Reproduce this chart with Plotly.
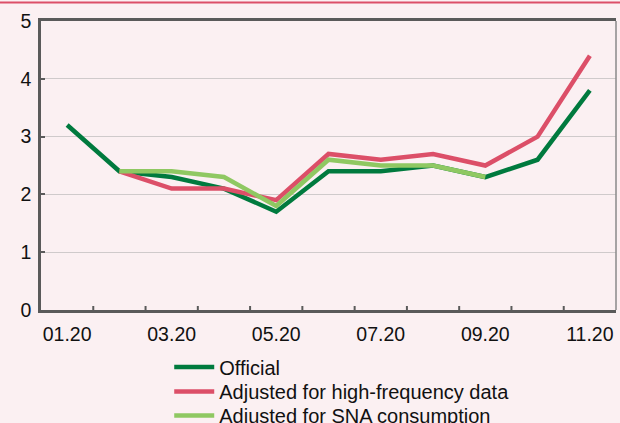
import plotly.graph_objects as go

months = ["01.20", "02.20", "03.20", "04.20", "05.20", "06.20",
          "07.20", "08.20", "09.20", "10.20", "11.20"]
tick_labels = ["01.20", "03.20", "05.20", "07.20", "09.20", "11.20"]

official = [3.2, 2.4, 2.3, 2.1, 1.7, 2.4, 2.4, 2.5, 2.3, 2.6, 3.8]
high_freq = [None, 2.4, 2.1, 2.1, 1.9, 2.7, 2.6, 2.7, 2.5, 3.0, 4.4]
sna = [None, 2.4, 2.4, 2.3, 1.8, 2.6, 2.5, 2.5, 2.3, None, None]

series = [
    ("Official", official, "#007A3E"),
    ("Adjusted for high-frequency data", high_freq, "#DC4F68"),
    ("Adjusted for SNA consumption", sna, "#8FC862"),
]

# each legend row gets its own legend box so the rows sit tightly stacked
legend_ids = ["legend", "legend2", "legend3"]
row_centres_px = [367, 391.5, 415.5]
plot_top, plot_bottom = 21, 310
plot_h = plot_bottom - plot_top

fig = go.Figure()
for (name, vals, color), lid in zip(series, legend_ids):
    fig.add_trace(go.Scatter(
        x=months, y=vals, name=name, mode="lines",
        line=dict(color=color, width=4.5),
        connectgaps=False, legend=lid,
    ))

bg = "#FBF0F2"
legend_boxes = {}
for lid, yc in zip(legend_ids, row_centres_px):
    legend_boxes[lid] = dict(
        x=0.223, y=(plot_bottom - yc) / plot_h, xanchor="left", yanchor="middle",
        bgcolor="rgba(0,0,0,0)", font=dict(size=20),
        itemwidth=40,
    )

fig.update_layout(
    width=620, height=423,
    margin=dict(l=41, r=4, t=plot_top, b=423 - plot_bottom, autoexpand=False),
    paper_bgcolor=bg, plot_bgcolor=bg,
    font=dict(family="Liberation Sans, Arial, sans-serif", size=19.5, color="#111111"),
    showlegend=True,
    xaxis=dict(
        type="category", categoryorder="array", categoryarray=months,
        range=[-0.5, len(months) - 0.5], automargin=False,
        tickmode="array", tickvals=tick_labels, ticktext=tick_labels,
        showgrid=False, zeroline=False,
        showline=True, linecolor="#5A5A5A", linewidth=2.5, mirror=True,
        ticks="", ticklabelstandoff=5,
    ),
    yaxis=dict(
        range=[0, 5], tickvals=[0, 1, 2, 3, 4, 5], automargin=False,
        showgrid=True, gridcolor="#CFCACB", gridwidth=1,
        zeroline=False,
        showline=True, linecolor="#5A5A5A", linewidth=2.5,
        ticks="inside", ticklen=4, tickwidth=2, tickcolor="#5A5A5A",
        ticklabelstandoff=3,
    ),
    **legend_boxes,
)

# Tick marks on the category boundaries along the bottom axis
n = len(months)
for i in range(1, n):
    fig.add_shape(type="line", xref="x", yref="paper",
                  x0=i - 0.5, x1=i - 0.5, y0=0, y1=4 / plot_h,
                  line=dict(color="#5A5A5A", width=2))

# Light right-hand frame edge
fig.add_shape(type="line", xref="paper", yref="paper",
              x0=1, x1=1, y0=0, y1=1,
              line=dict(color="#8A8A8A", width=1.5))

# Red rule across the top of the panel
fig.add_shape(type="line", xref="paper", yref="paper",
              x0=-41 / 575, x1=1 + 4 / 575,
              y0=1 + 18.5 / plot_h, y1=1 + 18.5 / plot_h,
              line=dict(color="#DC4F68", width=2))

fig.write_html("out.html")
